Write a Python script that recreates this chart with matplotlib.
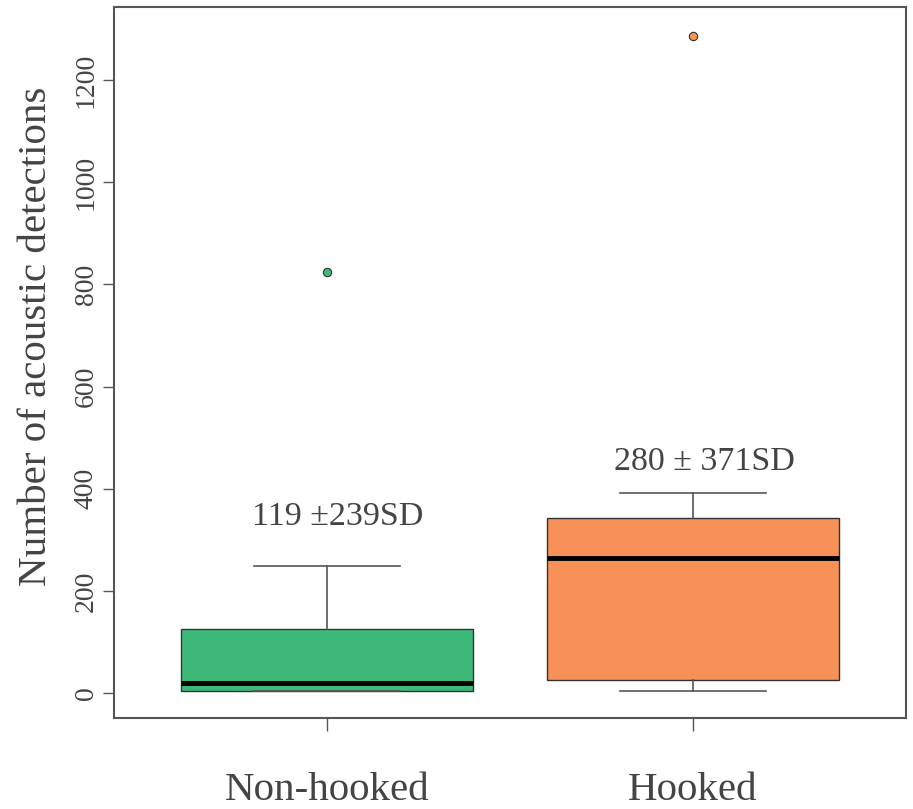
import matplotlib
matplotlib.use("Agg")
import matplotlib.pyplot as plt

categories = ["Non-hooked", "Hooked"]
q1 = [4, 25]
medians = [20, 264]
q3 = [125, 342]
whis_low = [4, 4]
whis_high = [248, 391]
outliers = [[825], [1287]]
box_colors = ["#3DB97A", "#F79157"]
annot_text = ["119 \u00b1239SD", "280 \u00b1 371SD"]
annot_y = [345, 452]
yticks = [0, 200, 400, 600, 800, 1000, 1200]

txt = "#444444"
edge = "#555555"

fig = plt.figure(figsize=(9.13, 8.09), dpi=100)
ax = fig.add_axes([114/913, 1-718/809, (906-114)/913, (718-7)/809])

stats = []
for i, c in enumerate(categories):
    stats.append(dict(label=c, q1=q1[i], med=medians[i], q3=q3[i],
                      whislo=whis_low[i], whishi=whis_high[i], fliers=outliers[i]))
positions = [1, 2]
bp = ax.bxp(stats, positions=positions, widths=0.8, patch_artist=True,
            boxprops=dict(edgecolor="#333333", linewidth=1.0),
            medianprops=dict(color="black", linewidth=3.5),
            whiskerprops=dict(color=edge, linewidth=1.2),
            capprops=dict(color=edge, linewidth=1.2),
            capwidths=0.4,
            flierprops=dict(marker="o", markersize=6, markeredgecolor="#333333",
                            markeredgewidth=0.8))
for patch, col in zip(bp["boxes"], box_colors):
    patch.set_facecolor(col)
for fl, col in zip(bp["fliers"], box_colors):
    fl.set_markerfacecolor(col)

for i, (t, y) in enumerate(zip(annot_text, annot_y)):
    ax.text(positions[i] + 0.03, y, t, ha="center", va="center",
            fontsize=24.5, color=txt, family="Liberation Serif")

ax.set_xlim(0.418, 2.582)
ax.set_ylim(-49, 1343)
ax.set_yticks(yticks)
ax.set_yticklabels([str(v) for v in yticks], rotation=90, va="center",
                   fontsize=20, color=txt, family="Liberation Serif")
ax.set_xticks(positions)
ax.set_xticklabels(categories, fontsize=29.5, color=txt, family="Liberation Serif")
ax.tick_params(axis="y", length=8, width=1, color=edge, pad=3)
ax.tick_params(axis="x", length=9, width=1, color=edge, pad=30)
for s in ax.spines.values():
    s.set_color(edge)
    s.set_linewidth(1.5)
ax.set_ylabel("Number of acoustic detections", fontsize=29.5, color=txt,
              family="Liberation Serif")
ax.yaxis.label.set_va("center")
ax.yaxis.set_label_coords((37 - 114) / 792, (718 - 336) / 711)

fig.savefig("out.png", dpi=100)
